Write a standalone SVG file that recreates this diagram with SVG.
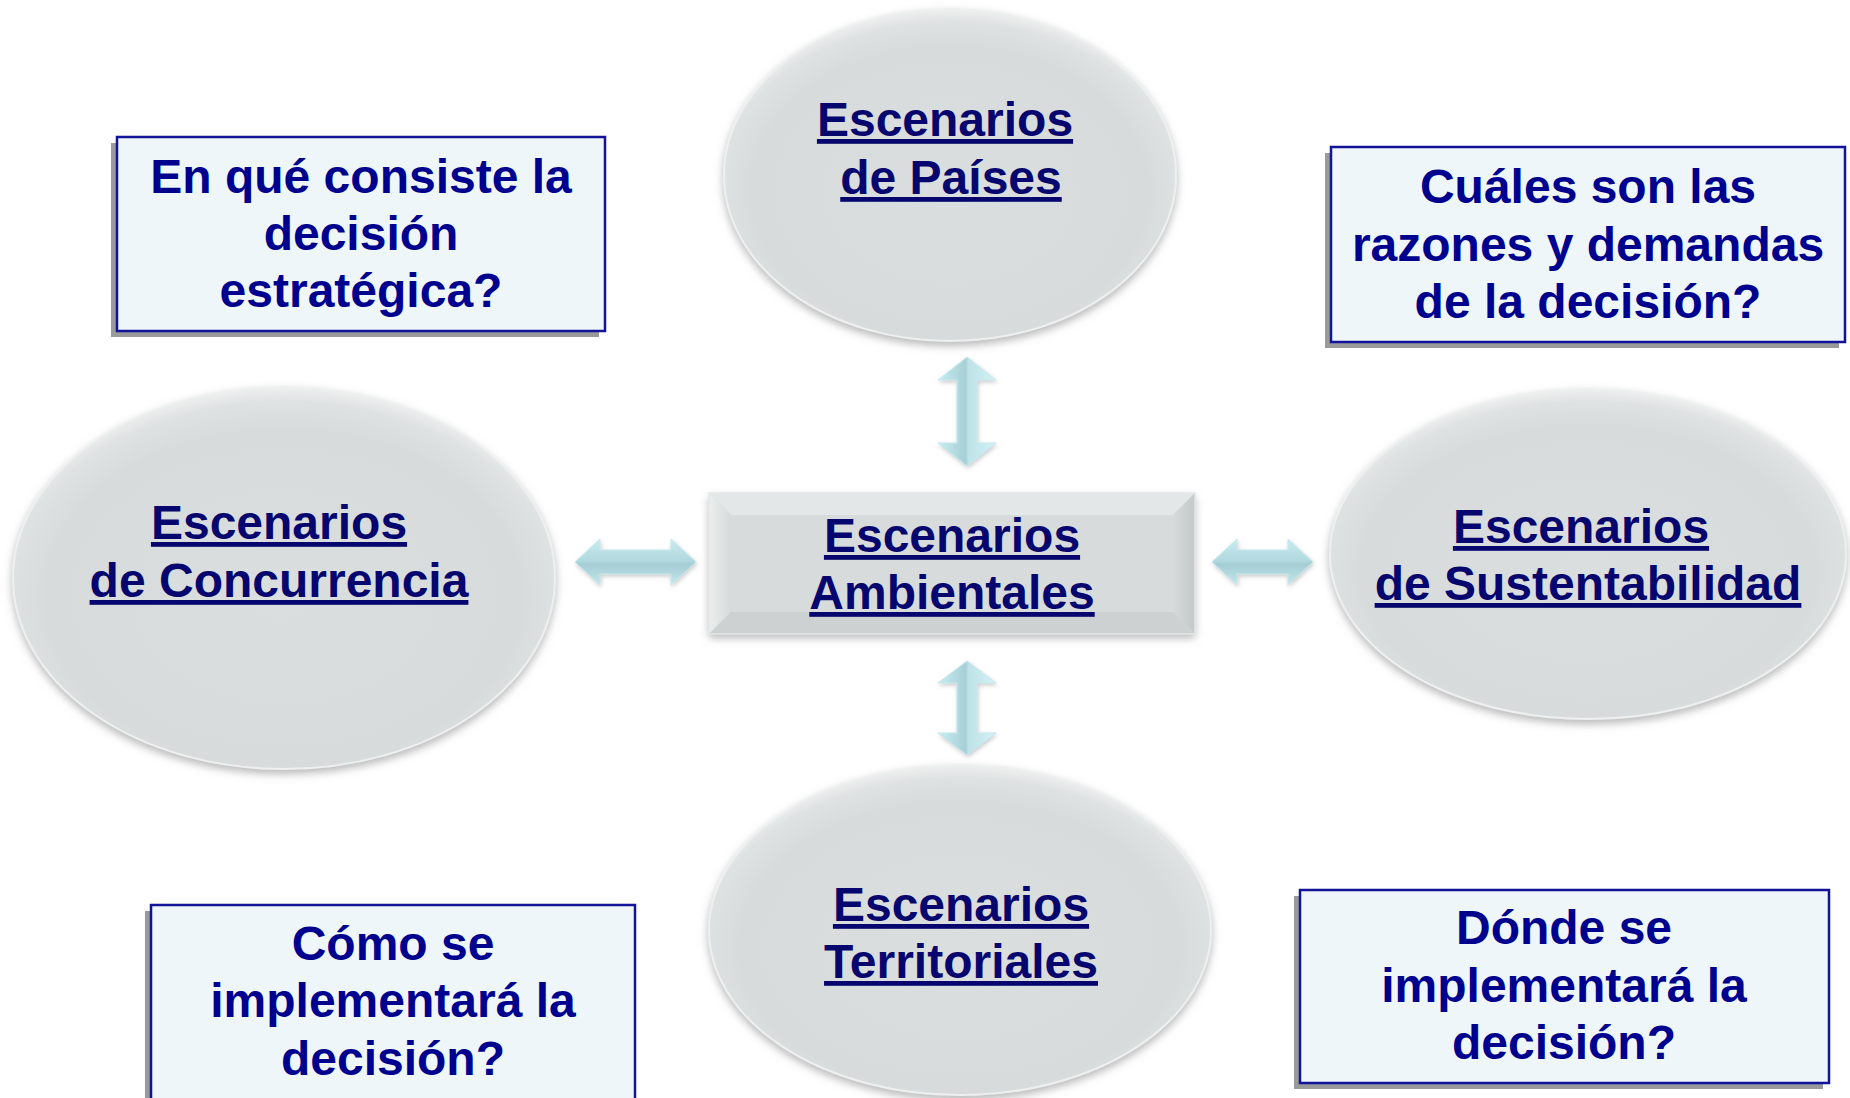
<svg xmlns="http://www.w3.org/2000/svg" width="1850" height="1098" viewBox="0 0 1850 1098">
<style>
.title{font-family:"Liberation Sans",Arial,sans-serif;font-weight:bold;font-size:48px;fill:#06066e;text-anchor:middle;text-decoration:underline}
.q{font-family:"Liberation Sans",Arial,sans-serif;font-weight:bold;font-size:48px;fill:#00008f;text-anchor:middle}
.qbox{fill:#eef6f9;stroke:#13139a;stroke-width:2.5}
.qshadow{fill:#9a9a9a}
.oval{fill:url(#ovalGrad);stroke:#eef0f0;stroke-width:2;filter:url(#soft)}
.arrow{fill:url(#arrGradV);stroke:#c6e9ee;stroke-width:1;filter:url(#arrShadow)}
.arrowH{fill:url(#arrGradH);stroke:#c6e9ee;stroke-width:1;filter:url(#arrShadow)}
</style>
<defs>
<radialGradient id="ovalGrad" cx="0.5" cy="0.55" r="0.55">
<stop offset="0" stop-color="#dadede"/>
<stop offset="0.8" stop-color="#d7dbdb"/>
<stop offset="0.93" stop-color="#dfe2e2"/>
<stop offset="1" stop-color="#eef0f0"/>
</radialGradient>
<filter id="soft" x="-10%" y="-10%" width="120%" height="125%">
<feGaussianBlur in="SourceAlpha" stdDeviation="4"/>
<feOffset dx="0" dy="4" result="b"/>
<feFlood flood-color="#888888" flood-opacity="0.6"/>
<feComposite in2="b" operator="in" result="s"/>
<feMerge><feMergeNode in="s"/><feMergeNode in="SourceGraphic"/></feMerge>
</filter>
<filter id="arrShadow" x="-20%" y="-20%" width="140%" height="140%">
<feGaussianBlur in="SourceAlpha" stdDeviation="2"/>
<feOffset dx="1" dy="2" result="b"/>
<feFlood flood-color="#999999" flood-opacity="0.5"/>
<feComposite in2="b" operator="in" result="s"/>
<feMerge><feMergeNode in="s"/><feMergeNode in="SourceGraphic"/></feMerge>
</filter>
<linearGradient id="arrGradV" x1="0" y1="0" x2="1" y2="0">
<stop offset="0" stop-color="#c9ecf0"/>
<stop offset="0.48" stop-color="#a6d0d6"/>
<stop offset="0.52" stop-color="#bde2e7"/>
<stop offset="1" stop-color="#d3f2f6"/>
</linearGradient>
<linearGradient id="arrGradH" x1="0" y1="0" x2="0" y2="1">
<stop offset="0" stop-color="#c9ecf0"/>
<stop offset="0.48" stop-color="#b0d8de"/>
<stop offset="0.55" stop-color="#a4cdd3"/>
<stop offset="1" stop-color="#c3e6eb"/>
</linearGradient>
<linearGradient id="bevelL" x1="0" y1="0" x2="1" y2="0">
<stop offset="0" stop-color="#eceeee"/>
<stop offset="1" stop-color="#d6dada"/>
</linearGradient>
<linearGradient id="bevelR" x1="0" y1="0" x2="1" y2="0">
<stop offset="0" stop-color="#d6dada"/>
<stop offset="1" stop-color="#c4c8c8"/>
</linearGradient>
</defs>

<g id="connectors">
<path class="arrow" d="M967,357 L996,380 L977,380 L977,443 L996,443 L967,466 L938,443 L957,443 L957,380 L938,380 Z"/>
<path class="arrow" d="M967,661 L996,683 L977,683 L977,733 L996,733 L967,755 L938,733 L957,733 L957,683 L938,683 Z"/>
<path class="arrowH" d="M575,562 L600,539 L600,550 L671,550 L671,539 L696,562 L671,585 L671,574 L600,574 L600,585 Z"/>
<path class="arrowH" d="M1212,562 L1237,539 L1237,550 L1288,550 L1288,539 L1313,562 L1288,585 L1288,574 L1237,574 L1237,585 Z"/>
</g>

<g id="node-paises">
<ellipse class="oval" cx="950" cy="175" rx="226" ry="166"/>
<text class="title" x="945" y="136">Escenarios</text>
<text class="title" x="951" y="194">de Países</text>
</g>

<g id="node-concurrencia">
<ellipse class="oval" cx="284" cy="578" rx="271" ry="191"/>
<text class="title" x="279" y="539">Escenarios</text>
<text class="title" x="279" y="597">de Concurrencia</text>
</g>

<g id="node-sustentabilidad">
<ellipse class="oval" cx="1588" cy="554" rx="258" ry="165"/>
<text class="title" x="1581" y="543">Escenarios</text>
<text class="title" x="1588" y="600">de Sustentabilidad</text>
</g>

<g id="node-territoriales">
<ellipse class="oval" cx="960" cy="930" rx="251" ry="165"/>
<text class="title" x="961" y="921">Escenarios</text>
<text class="title" x="961" y="978">Territoriales</text>
</g>

<g id="node-ambientales">
<rect x="709" y="493" width="486" height="141" fill="#d3d7d7" filter="url(#soft)"/>
<polygon points="709,493 1195,493 1173,515 731,515" fill="#e4e7e7"/>
<polygon points="709,493 731,515 731,612 709,634" fill="url(#bevelL)"/>
<polygon points="1195,493 1195,634 1173,612 1173,515" fill="url(#bevelR)"/>
<polygon points="709,634 731,612 1173,612 1195,634" fill="#cdd1d1"/>
<rect x="731" y="515" width="442" height="97" fill="#d7dbdb"/>
<rect x="709" y="493" width="486" height="141" fill="none" stroke="#e4e7e7" stroke-width="1.5"/>
<text class="title" x="952" y="552">Escenarios</text>
<text class="title" x="952" y="609">Ambientales</text>
</g>

<g id="q-consiste">
<rect class="qshadow" x="111" y="143" width="488" height="194"/>
<rect class="qbox" x="117" y="137" width="488" height="194"/>
<text class="q" x="361" y="193">En qué consiste la</text>
<text class="q" x="361" y="250">decisión</text>
<text class="q" x="361" y="307">estratégica?</text>
</g>

<g id="q-razones">
<rect class="qshadow" x="1325" y="153" width="514" height="195"/>
<rect class="qbox" x="1331" y="147" width="514" height="195"/>
<text class="q" x="1588" y="203">Cuáles son las</text>
<text class="q" x="1588" y="261">razones y demandas</text>
<text class="q" x="1588" y="318">de la decisión?</text>
</g>

<g id="q-como">
<rect class="qshadow" x="145" y="911" width="484" height="200"/>
<rect class="qbox" x="151" y="905" width="484" height="200"/>
<text class="q" x="393" y="960">Cómo se</text>
<text class="q" x="393" y="1017">implementará la</text>
<text class="q" x="393" y="1075">decisión?</text>
</g>

<g id="q-donde">
<rect class="qshadow" x="1294" y="896" width="529" height="193"/>
<rect class="qbox" x="1300" y="890" width="529" height="193"/>
<text class="q" x="1564" y="944">Dónde se</text>
<text class="q" x="1564" y="1002">implementará la</text>
<text class="q" x="1564" y="1059">decisión?</text>
</g>
</svg>
